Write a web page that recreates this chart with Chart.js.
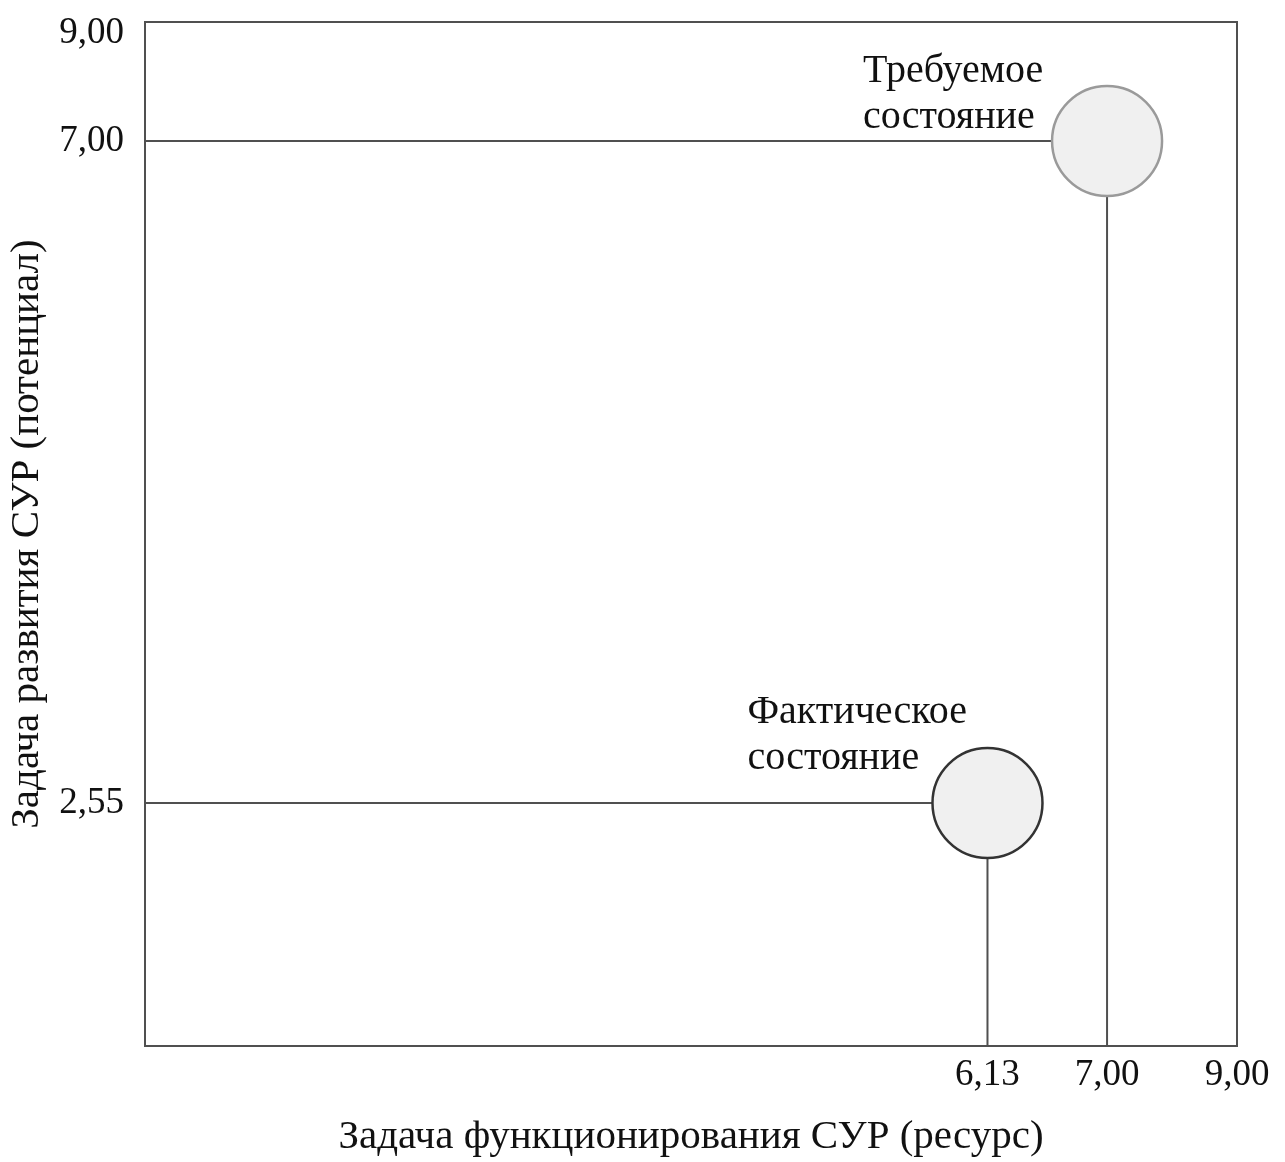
<!DOCTYPE html>
<html lang="ru">
<head>
<meta charset="utf-8">
<title>Состояние СУР</title>
<script src="https://cdn.jsdelivr.net/npm/chart.js@4.4.1/dist/chart.umd.min.js"></script>
<style>
  html, body { margin: 0; padding: 0; background: #ffffff; }
  canvas { display: block; }
</style>
</head>
<body>
<canvas id="chart" width="1285" height="1162"></canvas>
<script>
// Состояния системы управления рисками
const stateNames = [['Фактическое', 'состояние'], ['Требуемое', 'состояние']];
const resourceValues = [6.13, 7.00];   // задача функционирования (ресурс)
const potentialValues = [2.55, 7.00];  // задача развития (потенциал)

// Подписи делений осей
const xTickValues = [6.13, 7.00, 9.00];
const xTickLabels = ['6,13', '7,00', '9,00'];
const yTickValues = [2.55, 7.00, 9.00];
const yTickLabels = ['2,55', '7,00', '9,00'];

const xAxisTitle = 'Задача функционирования СУР (ресурс)';
const yAxisTitle = 'Задача развития СУР (потенциал)';

// Оси кусочно-линейные: [значение, доля длины оси]
const AXIS_STOPS = {
  x: [[0, 0], [7, 0.881], [9, 1]],
  y: [[0, 0], [2.55, 0.2373], [7, 0.8838], [9, 0.9893], [9.2, 1]]
};

const FONT = '"Liberation Serif", "Times New Roman", serif';
const LINE_COLOR = '#505050';
const BUBBLE_FILL = '#f0f0f0';
const BUBBLE_BORDERS = ['#333333', '#9a9a9a'];
const BUBBLE_RADIUS = 55;
// Смещение подписей относительно центра точки, px
const LABEL_OFFSETS = [{ dx: -240, dy: -80 }, { dx: -244, dy: -59 }];

class PiecewiseLinearScale extends Chart.LinearScale {
  static id = 'piecewise';
  static defaults = {};

  stops() { return AXIS_STOPS[this.id]; }

  getPixelForValue(value) {
    const s = this.stops();
    let i = 1;
    while (i < s.length - 1 && value > s[i][0]) i++;
    const [v0, f0] = s[i - 1];
    const [v1, f1] = s[i];
    const dec = f0 + (value - v0) / (v1 - v0) * (f1 - f0);
    return this.getPixelForDecimal(dec);
  }

  getValueForPixel(pixel) {
    const s = this.stops();
    const dec = this.getDecimalForPixel(pixel);
    let i = 1;
    while (i < s.length - 1 && dec > s[i][1]) i++;
    const [v0, f0] = s[i - 1];
    const [v1, f1] = s[i];
    return v0 + (dec - f0) / (f1 - f0) * (v1 - v0);
  }
}
Chart.register(PiecewiseLinearScale);

// Соединительные линии от осей к точкам
const guideSets = resourceValues.map((xv, i) => ({
  type: 'line',
  data: [{ x: 0, y: potentialValues[i] }, { x: xv, y: potentialValues[i] }, { x: xv, y: 0 }],
  borderColor: LINE_COLOR,
  borderWidth: 2,
  pointRadius: 0,
  fill: false,
  tension: 0,
  order: 2
}));

// Круги состояний
const stateSets = resourceValues.map((xv, i) => ({
  type: 'scatter',
  label: stateNames[i].join(' '),
  data: [{ x: xv, y: potentialValues[i] }],
  pointRadius: BUBBLE_RADIUS,
  pointHoverRadius: BUBBLE_RADIUS,
  pointBackgroundColor: BUBBLE_FILL,
  pointBorderColor: BUBBLE_BORDERS[i],
  pointBorderWidth: 2.5,
  clip: false,
  order: 1
}));

const framePlugin = {
  id: 'frame',
  beforeDatasetsDraw(chart) {
    const { ctx, chartArea: a } = chart;
    ctx.save();
    ctx.strokeStyle = LINE_COLOR;
    ctx.lineWidth = 2;
    ctx.strokeRect(a.left, a.top, a.right - a.left, a.bottom - a.top);
    ctx.restore();
  }
};

const stateLabelPlugin = {
  id: 'stateLabels',
  afterDatasetsDraw(chart) {
    const { ctx } = chart;
    ctx.save();
    ctx.font = '40px ' + FONT;
    ctx.fillStyle = '#111111';
    ctx.textAlign = 'left';
    ctx.textBaseline = 'alphabetic';
    stateSets.forEach((ds, i) => {
      const meta = chart.getDatasetMeta(guideSets.length + i);
      const pt = meta.data[0];
      const off = LABEL_OFFSETS[i];
      stateNames[i].forEach((line, k) => {
        ctx.fillText(line, pt.x + off.dx, pt.y + off.dy + k * 46);
      });
    });
    ctx.restore();
  }
};

new Chart(document.getElementById('chart'), {
  type: 'scatter',
  data: { datasets: [...guideSets, ...stateSets] },
  options: {
    responsive: false,
    animation: false,
    events: [],
    layout: { autoPadding: false, padding: { top: 22, right: 48, left: 0, bottom: 0 } },
    plugins: { legend: { display: false }, tooltip: { enabled: false } },
    scales: {
      x: {
        type: 'piecewise',
        min: 0,
        max: 9,
        grid: { display: false, drawTicks: false },
        border: { display: false },
        afterBuildTicks: (scale) => { scale.ticks = xTickValues.map(v => ({ value: v })); },
        afterFit: (scale) => {
          scale.height = 116;
          scale.paddingLeft = 0;
          scale.paddingRight = 0;
        },
        ticks: {
          autoSkip: false,
          maxRotation: 0,
          padding: 7,
          color: '#111111',
          font: { family: FONT, size: 37 },
          callback: (value, index) => xTickLabels[index]
        },
        title: {
          display: true,
          text: xAxisTitle,
          color: '#111111',
          font: { family: FONT, size: 41 },
          padding: { top: 0, bottom: 0 }
        }
      },
      y: {
        type: 'piecewise',
        min: 0,
        max: 9.2,
        grid: { display: false, drawTicks: false },
        border: { display: false },
        afterBuildTicks: (scale) => { scale.ticks = yTickValues.map(v => ({ value: v })); },
        afterFit: (scale) => {
          scale.width = 145;
          scale.paddingTop = 0;
          scale.paddingBottom = 0;
        },
        ticks: {
          autoSkip: false,
          padding: 21,
          color: '#111111',
          font: { family: FONT, size: 37 },
          callback: (value, index) => yTickLabels[index]
        },
        title: {
          display: true,
          text: yAxisTitle,
          color: '#111111',
          font: { family: FONT, size: 41 },
          padding: { top: 3, bottom: 0 }
        }
      }
    }
  },
  plugins: [framePlugin, stateLabelPlugin]
});
</script>
</body>
</html>
